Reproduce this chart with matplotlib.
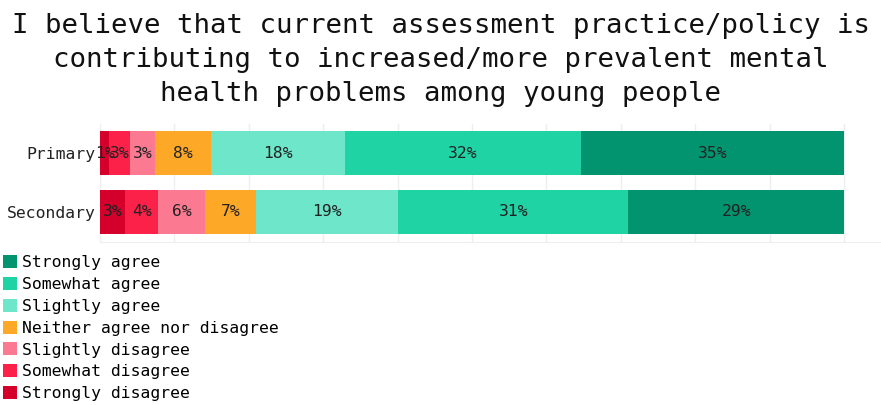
import matplotlib.pyplot as plt
from matplotlib.patches import Patch

# Survey responses (share of respondents, %)
groups = ['Primary', 'Secondary']
responses = ['Strongly disagree', 'Somewhat disagree', 'Slightly disagree',
             'Neither agree nor disagree', 'Slightly agree', 'Somewhat agree',
             'Strongly agree']
primary = [1.2, 2.8, 3.4, 7.5, 18.0, 31.7, 35.4]
secondary = [3.4, 4.4, 6.3, 6.9, 19.1, 30.9, 29.0]
colors = ['#d4002b', '#fb2149', '#fc7a91', '#fea828',
          '#6de6ca', '#1fd3a5', '#02936f']

title = ('I believe that current assessment practice/policy is\n'
         'contributing to increased/more prevalent mental\n'
         'health problems among young people')

plt.rcParams['font.family'] = 'DejaVu Sans Mono'

fig = plt.figure(figsize=(8.81, 4.05), dpi=100)
ax = fig.add_axes([100 / 881, 1 - 241.5 / 405, 781 / 881, 118 / 405])

data = [primary, secondary]
for row, vals in enumerate(data):
    total = sum(vals)
    left = 0
    for v, c in zip(vals, colors):
        w = v / total
        ax.barh(row, w, left=left, height=0.75, color=c, zorder=2)
        ax.text(left + w / 2, row, f'{round(v)}%', ha='center', va='center',
                fontsize=11.8, color='#222222', zorder=3)
        left += w

ax.set_xlim(0, 1.0497)
ax.set_ylim(1.5, -0.5)
ax.set_xticks([i / 10 for i in range(11)])
ax.set_xticklabels([])
ax.tick_params(axis='x', length=0)
ax.tick_params(axis='y', length=0, labelsize=11.8, pad=3)
ax.set_yticks(range(len(groups)))
ax.set_yticklabels(groups, color='#222222')
ax.grid(axis='x', color='#eeeeee', linewidth=1, zorder=0)
for s in ['top', 'right', 'left']:
    ax.spines[s].set_visible(False)
ax.spines['bottom'].set_color('#eeeeee')

fig.text(0.5, 1 - 13 / 405, title, ha='center', va='top', fontsize=19.7,
         linespacing=1.4, color='#111111')

handles = [Patch(facecolor=c, label=r) for c, r in zip(colors, responses)][::-1]
fig.legend(handles=handles, loc='upper left', bbox_to_anchor=(0, 1 - 252 / 405),
           frameon=False, fontsize=11.8, handlelength=0.85, handleheight=0.85,
           handletextpad=0.3, labelspacing=0.4, borderaxespad=0, borderpad=0.2)

fig.savefig('out.png', dpi=100)
